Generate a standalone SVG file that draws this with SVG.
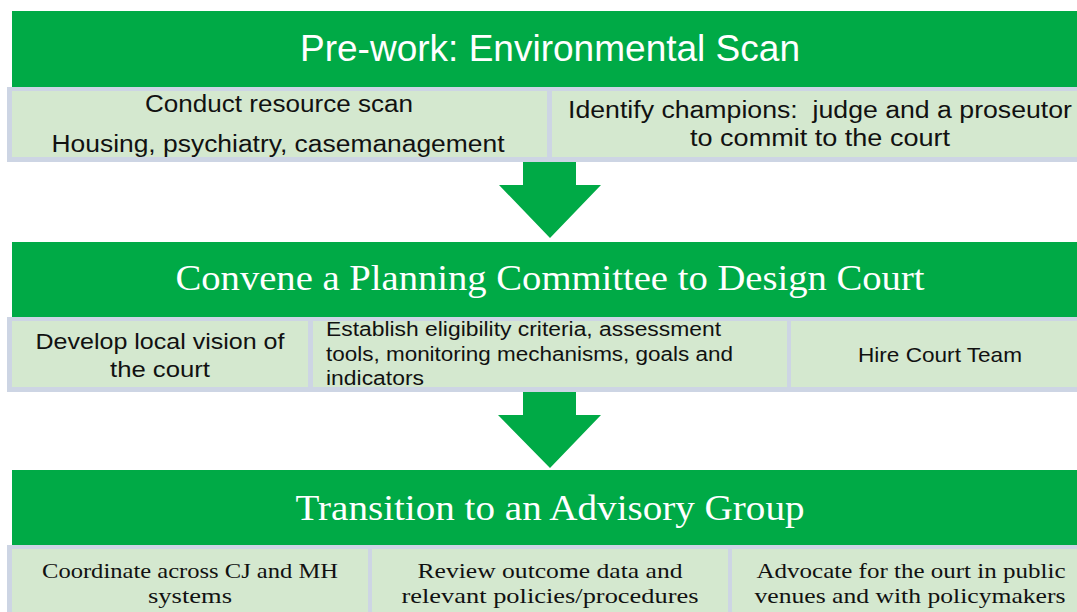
<svg xmlns="http://www.w3.org/2000/svg" width="1077" height="612" viewBox="0 0 1077 612">
<style>
.hdr{fill:#00AA46}
.tbl{fill:#CDD5E4}
.cell{fill:#D4E8CF}
.arrow{fill:#00AA46}
.ht{fill:#FFFFFF;text-anchor:middle}
.sans{font-family:"Liberation Sans",Arial,sans-serif}
.serif{font-family:"Liberation Serif","Times New Roman",serif}
.ct{fill:#111111}
.mid{text-anchor:middle}
</style>
<rect width="1077" height="612" fill="#FFFFFF"/>
<g id="connectors">
<polygon class="arrow" points="523,161 576,161 576,185 601,185 550,238 499,185 523,185"/>
<polygon class="arrow" points="523,391 576,391 576,415 601,415 550,468 498,415 523,415"/>
</g>
<g id="stage1">
<rect class="hdr" x="12" y="11" width="1065" height="76"/>
<text class="ht sans" x="550" y="61" font-size="36" textLength="500" lengthAdjust="spacingAndGlyphs">Pre-work: Environmental Scan</text>
<rect class="tbl" x="7" y="87" width="1070" height="75"/>
<rect class="cell" x="12" y="91" width="535" height="66"/>
<rect class="cell" x="552" y="91" width="525" height="66"/>
<text class="ct sans mid" x="279" y="112" font-size="23" textLength="268" lengthAdjust="spacingAndGlyphs">Conduct resource scan</text>
<text class="ct sans mid" x="278" y="152" font-size="23" textLength="453" lengthAdjust="spacingAndGlyphs">Housing, psychiatry, casemanagement</text>
<text class="ct sans mid" x="820" y="118" font-size="23" textLength="504" lengthAdjust="spacingAndGlyphs" xml:space="preserve">Identify champions:  judge and a proseutor</text>
<text class="ct sans mid" x="820" y="146" font-size="23" textLength="260" lengthAdjust="spacingAndGlyphs">to commit to the court</text>
</g>
<g id="stage2">
<rect class="hdr" x="12" y="242" width="1065" height="76"/>
<text class="ht serif" x="550" y="290" font-size="36" textLength="749" lengthAdjust="spacingAndGlyphs">Convene a Planning Committee to Design Court</text>
<rect class="tbl" x="7" y="317" width="1070" height="75"/>
<rect class="cell" x="12" y="321" width="296" height="66"/>
<rect class="cell" x="313" y="321" width="474" height="66"/>
<rect class="cell" x="791" y="321" width="286" height="66"/>
<text class="ct sans mid" x="160" y="349" font-size="22" textLength="249" lengthAdjust="spacingAndGlyphs">Develop local vision of</text>
<text class="ct sans mid" x="160" y="377" font-size="22" textLength="100" lengthAdjust="spacingAndGlyphs">the court</text>
<text class="ct sans" x="326" y="336" font-size="20" textLength="395" lengthAdjust="spacingAndGlyphs">Establish eligibility criteria, assessment</text>
<text class="ct sans" x="326" y="361" font-size="20" textLength="407" lengthAdjust="spacingAndGlyphs">tools, monitoring mechanisms, goals and</text>
<text class="ct sans" x="326" y="385" font-size="20" textLength="98" lengthAdjust="spacingAndGlyphs">indicators</text>
<text class="ct sans mid" x="940" y="362" font-size="21" textLength="164" lengthAdjust="spacingAndGlyphs">Hire Court Team</text>
</g>
<g id="stage3">
<rect class="hdr" x="12" y="470" width="1065" height="76"/>
<text class="ht serif" x="550" y="520" font-size="36" textLength="509" lengthAdjust="spacingAndGlyphs">Transition to an Advisory Group</text>
<rect class="tbl" x="7" y="545" width="1070" height="67"/>
<rect class="cell" x="12" y="549" width="356" height="63"/>
<rect class="cell" x="372" y="549" width="356" height="63"/>
<rect class="cell" x="732" y="549" width="345" height="63"/>
<text class="ct serif mid" x="190" y="578" font-size="22" textLength="296" lengthAdjust="spacingAndGlyphs">Coordinate across CJ and MH</text>
<text class="ct serif mid" x="190" y="603" font-size="22" textLength="84" lengthAdjust="spacingAndGlyphs">systems</text>
<text class="ct serif mid" x="550" y="578" font-size="22" textLength="265" lengthAdjust="spacingAndGlyphs">Review outcome data and</text>
<text class="ct serif mid" x="550" y="603" font-size="22" textLength="297" lengthAdjust="spacingAndGlyphs">relevant policies/procedures</text>
<text class="ct serif mid" x="911" y="578" font-size="22" textLength="309" lengthAdjust="spacingAndGlyphs">Advocate for the ourt in public</text>
<text class="ct serif mid" x="910" y="603" font-size="22" textLength="311" lengthAdjust="spacingAndGlyphs">venues and with policymakers</text>
</g>
</svg>
